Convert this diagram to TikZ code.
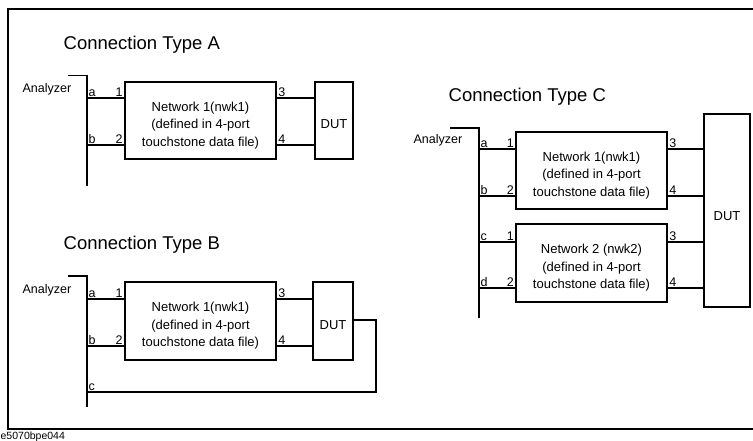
\documentclass[tikz,border=0pt]{standalone}
\usepackage{fontspec}
\setmainfont{Liberation Sans}
\begin{document}
\begin{tikzpicture}[x=1pt,y=-1pt,line width=1.3pt,
  netbox/.style={draw,minimum width=151pt,minimum height=77pt,inner sep=0pt},
  boxtext/.style={align=center,inner sep=0pt,yshift=-5pt,font=\fontsize{13}{17.5}\selectfont},
  dutbox/.style={draw,minimum height=77pt,inner sep=0pt},
  duttext/.style={inner sep=0pt,yshift=-4pt,font=\fontsize{13}{15}\selectfont},
  lbl/.style={inner sep=1pt,font=\fontsize{12.5}{14}\selectfont},
  title/.style={anchor=west,inner sep=0pt,font=\fontsize{18.5}{20}\selectfont}]
\useasboundingbox (0,0) rectangle (753,441);
\draw[line width=1.8pt] (760,9) -- (8,9) -- (8,429) -- (760,429);
\node[anchor=north west,inner sep=0pt,font=\fontsize{10.5}{12}\selectfont] (fig) at (0,431.5) {e5070bpe044};

% Connection Type A
\node[title] (tA) at (63,45) {Connection Type A};
\node[lbl,anchor=west,inner sep=0pt] (anzA) at (22,89) {Analyzer};
\coordinate (anA1) at (68,75.6);
\coordinate (anA2) at (87,75.6);
\coordinate (anA3) at (87,186);
\draw (anA1) -- (anA2) -- (anA3);
\node[netbox,label={[boxtext]center:{Network 1(nwk1)\\(defined in 4-port\\touchstone data file)}}] (nwA) at (200.5,120.5) {};
\node[dutbox,minimum width=38pt,label={[duttext]center:DUT}] (dutA) at (334,120.5) {};
\coordinate (aA) at (87,98);
\coordinate (bA) at (87,145);
\draw (aA) -- (aA -| nwA.west);
\draw (bA) -- (bA -| nwA.west);
\draw (aA -| nwA.east) -- (aA -| dutA.west);
\draw (bA -| nwA.east) -- (bA -| dutA.west);
\node[lbl,anchor=south west] at (aA) {a};
\node[lbl,anchor=south west] at (bA) {b};
\node[lbl,anchor=south east] at (aA -| nwA.west) {1};
\node[lbl,anchor=south east] at (bA -| nwA.west) {2};
\node[lbl,anchor=south west] at (aA -| nwA.east) {3};
\node[lbl,anchor=south west] at (bA -| nwA.east) {4};

% Connection Type B
\node[title] (tB) at (63,245) {Connection Type B};
\node[lbl,anchor=west,inner sep=0pt] (anzB) at (22,290) {Analyzer};
\coordinate (anB1) at (68,276);
\coordinate (anB2) at (87,276);
\coordinate (anB3) at (87,407);
\draw (anB1) -- (anB2) -- (anB3);
\node[netbox,minimum height=78pt,label={[boxtext]center:{Network 1(nwk1)\\(defined in 4-port\\touchstone data file)}}] (nwB) at (200.5,321) {};
\node[dutbox,minimum width=40pt,minimum height=78pt,label={[duttext]center:DUT}] (dutB) at (333,321) {};
\coordinate (aB) at (87,299);
\coordinate (bB) at (87,346);
\coordinate (cB) at (87,392);
\coordinate (loopB) at (376,320);
\draw (aB) -- (aB -| nwB.west);
\draw (bB) -- (bB -| nwB.west);
\draw (aB -| nwB.east) -- (aB -| dutB.west);
\draw (bB -| nwB.east) -- (bB -| dutB.west);
\draw (cB) -| (loopB) -- (loopB -| dutB.east);
\node[lbl,anchor=south west] at (aB) {a};
\node[lbl,anchor=south west] at (bB) {b};
\node[lbl,anchor=south west] at (cB) {c};
\node[lbl,anchor=south east] at (aB -| nwB.west) {1};
\node[lbl,anchor=south east] at (bB -| nwB.west) {2};
\node[lbl,anchor=south west] at (aB -| nwB.east) {3};
\node[lbl,anchor=south west] at (bB -| nwB.east) {4};

% Connection Type C
\node[title] (tC) at (448,97) {Connection Type C};
\node[lbl,anchor=west,inner sep=0pt] (anzC) at (413,140) {Analyzer};
\coordinate (anC1) at (450,128);
\coordinate (anC2) at (479,128);
\coordinate (anC3) at (479,318);
\draw (anC1) -- (anC2) -- (anC3);
\node[netbox,label={[boxtext]center:{Network 1(nwk1)\\(defined in 4-port\\touchstone data file)}}] (nwC1) at (591.5,170.5) {};
\node[netbox,minimum height=78pt,label={[boxtext]center:{Network 2 (nwk2)\\(defined in 4-port\\touchstone data file)}}] (nwC2) at (591.5,263) {};
\node[dutbox,minimum width=46pt,minimum height=193pt,label={[duttext,yshift=-2pt]center:DUT}] (dutC) at (727,210.5) {};
\coordinate (aC) at (479,149);
\coordinate (bC) at (479,196);
\coordinate (cC) at (479,242);
\coordinate (dC) at (479,288);
\draw (aC) -- (aC -| nwC1.west);
\draw (bC) -- (bC -| nwC1.west);
\draw (cC) -- (cC -| nwC2.west);
\draw (dC) -- (dC -| nwC2.west);
\draw (aC -| nwC1.east) -- (aC -| dutC.west);
\draw (bC -| nwC1.east) -- (bC -| dutC.west);
\draw (cC -| nwC2.east) -- (cC -| dutC.west);
\draw (dC -| nwC2.east) -- (dC -| dutC.west);
\node[lbl,anchor=south west] at (aC) {a};
\node[lbl,anchor=south west] at (bC) {b};
\node[lbl,anchor=south west] at (cC) {c};
\node[lbl,anchor=south west] at (dC) {d};
\node[lbl,anchor=south east] at (aC -| nwC1.west) {1};
\node[lbl,anchor=south east] at (bC -| nwC1.west) {2};
\node[lbl,anchor=south east] at (cC -| nwC2.west) {1};
\node[lbl,anchor=south east] at (dC -| nwC2.west) {2};
\node[lbl,anchor=south west] at (aC -| nwC1.east) {3};
\node[lbl,anchor=south west] at (bC -| nwC1.east) {4};
\node[lbl,anchor=south west] at (cC -| nwC2.east) {3};
\node[lbl,anchor=south west] at (dC -| nwC2.east) {4};
\end{tikzpicture}
\end{document}
